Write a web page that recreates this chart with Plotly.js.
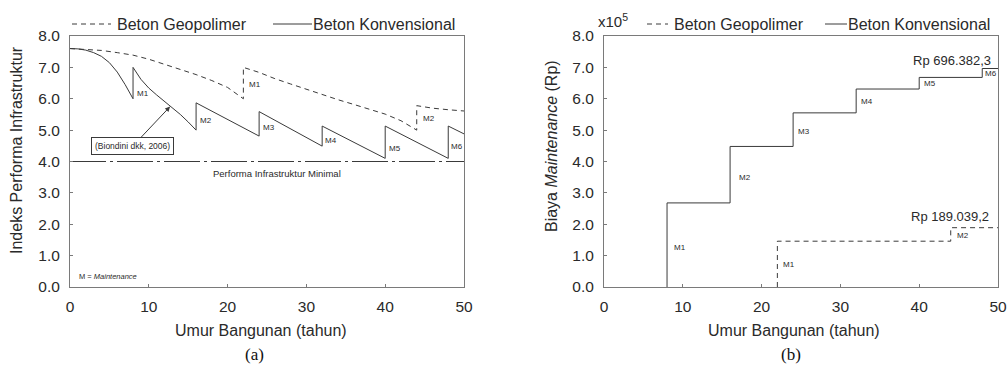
<!DOCTYPE html>
<html>
<head>
<meta charset="utf-8">
<script src="https://cdn.plot.ly/plotly-3.0.1.min.js"></script>
<style>
  html, body { margin: 0; padding: 0; background: #fff; }
  #chart { width: 1008px; height: 367px; }
</style>
</head>
<body>
<div id="chart"></div>
<script>
// ---------- DATA ----------
// Panel (a): performance index vs building age
const perfKonvX = [0,1,2,3,4,5,6,7,8, 8,9,10,11,12,13,14,15,16, 16,24, 24,32, 32,40, 40,48, 48,50];
const perfKonvY = [7.6,7.59,7.55,7.47,7.35,7.15,6.85,6.45,6.0, 7.0,6.62,6.34,6.12,5.92,5.71,5.5,5.26,5.0, 5.87,4.81, 5.59,4.49, 5.13,4.1, 5.13,4.1, 5.13,4.88];
const perfGeoX = [0,2,4,6,8,10,12,14,16,18,20,22, 22,24,26,28,30,32,34,36,38,40,42,44, 44,46,48,50];
const perfGeoY = [7.6,7.58,7.54,7.47,7.39,7.26,7.1,6.94,6.77,6.58,6.36,6.0, 7.0,6.84,6.64,6.47,6.3,6.12,5.97,5.82,5.67,5.51,5.3,5.0, 5.78,5.7,5.65,5.61];
const minPerfX = [0, 50];
const minPerfY = [4.0, 4.0];

// Panel (b): cumulative maintenance cost (Rp) after each maintenance
const maintKonvYears = [8, 16, 24, 32, 40, 48];
const costKonvRp = [268000, 448000, 555000, 631000, 668000, 696382.3];
const maintGeoYears = [22, 44];
const costGeoRp = [146000, 189039.2];
const endYear = 50;
const costScale = 1e5;

// Maintenance labels
const mKonvPerf = {x: [8.2, 16.2, 24.2, 32.1, 40.2, 48.1], y: [6.17, 5.3, 5.08, 4.66, 4.42, 4.47], t: ["M1","M2","M3","M4","M5","M6"]};
const mGeoPerf = {x: [22.4, 44.5], y: [6.44, 5.38], t: ["M1","M2"]};
const mKonvCost = {x: [8.6, 16.9, 24.4, 32.3, 40.4, 48.1], y: [1.26, 3.5, 4.95, 5.9, 6.49, 6.79], t: ["M1","M2","M3","M4","M5","M6"]};
const mGeoCost = {x: [22.5, 44.6], y: [0.72, 1.63], t: ["M1","M2"]};

const xTicks = [0, 10, 20, 30, 40, 50];
const yTicks = [0, 1, 2, 3, 4, 5, 6, 7, 8];
const legendNames = ["Beton Geopolimer", "Beton Konvensional"];

// ---------- STYLE ----------
const LINE = '#3a3a3a';
const FRAME = '#7a7a7a';
const TXT = '#2a2a2a';
const FONT = 'Liberation Sans, Arial, sans-serif';
const W = 1008, H = 367;
const M = {l: 70, r: 10, t: 36, b: 80};
const PW = W - M.l - M.r, PH = H - M.t - M.b;
const px = v => (v - M.l) / PW;        // page px -> paper x
const py = v => (H - M.b - v) / PH;    // page px -> paper y

// Build a cumulative step path from maintenance years and cumulative costs
function stepPath(years, costs) {
  const xs = [], ys = [];
  let prev = 0;
  years.forEach((yr, i) => {
    const c = costs[i] / costScale;
    xs.push(yr, yr); ys.push(prev, c);
    if (i < years.length - 1) { xs.push(years[i + 1]); ys.push(c); }
    prev = c;
  });
  xs.push(endYear); ys.push(prev);
  return {xs, ys};
}
const konvStep = stepPath(maintKonvYears, costKonvRp);
const geoStep = stepPath(maintGeoYears, costGeoRp);

const traces = [
  {x: perfGeoX, y: perfGeoY, xaxis: 'x', yaxis: 'y', mode: 'lines', name: legendNames[0],
   line: {color: LINE, width: 1, dash: '5px,4px'}, showlegend: false},
  {x: perfKonvX, y: perfKonvY, xaxis: 'x', yaxis: 'y', mode: 'lines', name: legendNames[1],
   line: {color: LINE, width: 1}, showlegend: false},
  {x: minPerfX, y: minPerfY, xaxis: 'x', yaxis: 'y', mode: 'lines', name: 'Performa Infrastruktur Minimal',
   line: {color: LINE, width: 1, dash: '36px,4px,3px,4px'}, showlegend: false},
  {x: geoStep.xs, y: geoStep.ys, xaxis: 'x2', yaxis: 'y2', mode: 'lines', name: legendNames[0],
   line: {color: LINE, width: 1, dash: '5px,4px'}, showlegend: false},
  {x: konvStep.xs, y: konvStep.ys, xaxis: 'x2', yaxis: 'y2', mode: 'lines', name: legendNames[1],
   line: {color: LINE, width: 1}, showlegend: false}
];

function axisX(domain, anchor) {
  return {domain: domain, anchor: anchor, range: [0, 50], tickvals: xTicks, ticktext: xTicks.map(String),
    ticks: 'inside', ticklen: 3, tickcolor: FRAME, showline: true, linecolor: FRAME, linewidth: 1, mirror: true,
    layer: 'above traces', ticklabelstandoff: 5,
    showgrid: false, zeroline: false, tickfont: {family: FONT, size: 15.5, color: TXT}, fixedrange: true};
}
function axisY(anchor) {
  return {domain: [0, 1], anchor: anchor, range: [0, 8], tickvals: yTicks, ticktext: yTicks.map(v => v.toFixed(1)),
    ticks: 'inside', ticklen: 3, tickcolor: FRAME, showline: true, linecolor: FRAME, linewidth: 1, mirror: true,
    ticklabelstandoff: 6,
    showgrid: false, zeroline: false, tickfont: {family: FONT, size: 15.5, color: TXT}, fixedrange: true};
}

const annotations = [];
const shapes = [];
function txt(o) {
  annotations.push(Object.assign({showarrow: false, xanchor: 'center', yanchor: 'middle',
    font: {family: FONT, size: 8, color: TXT}}, o));
}
// M labels
[[mKonvPerf, 'x', 'y'], [mGeoPerf, 'x', 'y'], [mKonvCost, 'x2', 'y2'], [mGeoCost, 'x2', 'y2']].forEach(([m, xr, yr]) => {
  m.t.forEach((t, i) => txt({xref: xr, yref: yr, x: m.x[i], y: m.y[i], text: t, xanchor: 'left', yanchor: 'middle'}));
});
// Minimal performance label
txt({xref: 'x', yref: 'y', x: 26.3, y: 3.63, text: 'Performa Infrastruktur Minimal', font: {family: FONT, size: 9.5, color: TXT}});
// M = Maintenance
txt({xref: 'x', yref: 'y', x: 0.9, y: 0.33, text: 'M = <i>Maintenance</i>', xanchor: 'left', font: {family: FONT, size: 7.5, color: TXT}});
// Biondini callout
annotations.push({xref: 'x', yref: 'y', x: 12.7, y: 5.75, axref: 'x', ayref: 'y', ax: 7.96, ay: 4.49,
  text: '(Biondini dkk, 2006)', showarrow: true, arrowhead: 2, arrowsize: 1, arrowwidth: 1, arrowcolor: LINE,
  bordercolor: LINE, borderwidth: 1, borderpad: 3, bgcolor: '#fff',
  font: {family: FONT, size: 8.5, color: TXT}});
// Cost totals
txt({xref: 'paper', yref: 'y2', x: px(993), y: 7.21, text: 'Rp ' + '696.382,3', xanchor: 'right', font: {family: FONT, size: 13, color: TXT}});
txt({xref: 'paper', yref: 'y2', x: px(991), y: 2.26, text: 'Rp ' + '189.039,2', xanchor: 'right', font: {family: FONT, size: 13, color: TXT}});
// x10^5
txt({xref: 'paper', yref: 'paper', x: px(596), y: py(20), text: 'x10<sup>5</sup>', xanchor: 'left', yanchor: 'middle', font: {family: FONT, size: 15, color: TXT}});

// Axis titles
txt({xref: 'paper', yref: 'paper', x: px(261), y: py(330), text: 'Umur Bangunan (tahun)', font: {family: FONT, size: 16, color: TXT}});
txt({xref: 'paper', yref: 'paper', x: px(794), y: py(330), text: 'Umur Bangunan (tahun)', font: {family: FONT, size: 16, color: TXT}});
txt({xref: 'paper', yref: 'paper', x: px(16), y: py(150), text: 'Indeks Performa Infrastruktur', textangle: -90, font: {family: FONT, size: 16, color: TXT}});
txt({xref: 'paper', yref: 'paper', x: px(551), y: py(146), text: 'Biaya <i>Maintenance</i> (Rp)', textangle: -90, font: {family: FONT, size: 16, color: TXT}});
// Panel captions
txt({xref: 'paper', yref: 'paper', x: px(254), y: py(354), text: '(a)', font: {family: 'Liberation Serif, Times New Roman, serif', size: 17, color: '#111'}});
txt({xref: 'paper', yref: 'paper', x: px(791), y: py(354), text: '(b)', font: {family: 'Liberation Serif, Times New Roman, serif', size: 17, color: '#111'}});

// Manual legends
function legend(dashX0, dashX1, dashTextX, solidX0, solidX1, solidTextX) {
  const yy = py(24);
  shapes.push({type: 'line', xref: 'paper', yref: 'paper', x0: px(dashX0), x1: px(dashX1), y0: yy, y1: yy, line: {color: LINE, width: 1, dash: '5px,4px'}});
  shapes.push({type: 'line', xref: 'paper', yref: 'paper', x0: px(solidX0), x1: px(solidX1), y0: yy, y1: yy, line: {color: LINE, width: 1}});
  txt({xref: 'paper', yref: 'paper', x: px(dashTextX), y: yy, text: legendNames[0], xanchor: 'left', yanchor: 'middle', font: {family: FONT, size: 16, color: TXT}});
  txt({xref: 'paper', yref: 'paper', x: px(solidTextX), y: yy, text: legendNames[1], xanchor: 'left', yanchor: 'middle', font: {family: FONT, size: 16, color: TXT}});
}
legend(72, 111, 115, 273, 312, 311);
legend(647, 668, 672, 825, 847, 846);

const layout = {
  width: W, height: H, margin: M, paper_bgcolor: '#fff', plot_bgcolor: '#fff', showlegend: false,
  xaxis: axisX([0, px(464)], 'y'),
  yaxis: axisY('x'),
  xaxis2: axisX([px(604), 1], 'y2'),
  yaxis2: axisY('x2'),
  annotations: annotations, shapes: shapes,
  font: {family: FONT, color: TXT}
};

Plotly.newPlot('chart', traces, layout, {displayModeBar: false, staticPlot: true});
</script>
</body>
</html>
